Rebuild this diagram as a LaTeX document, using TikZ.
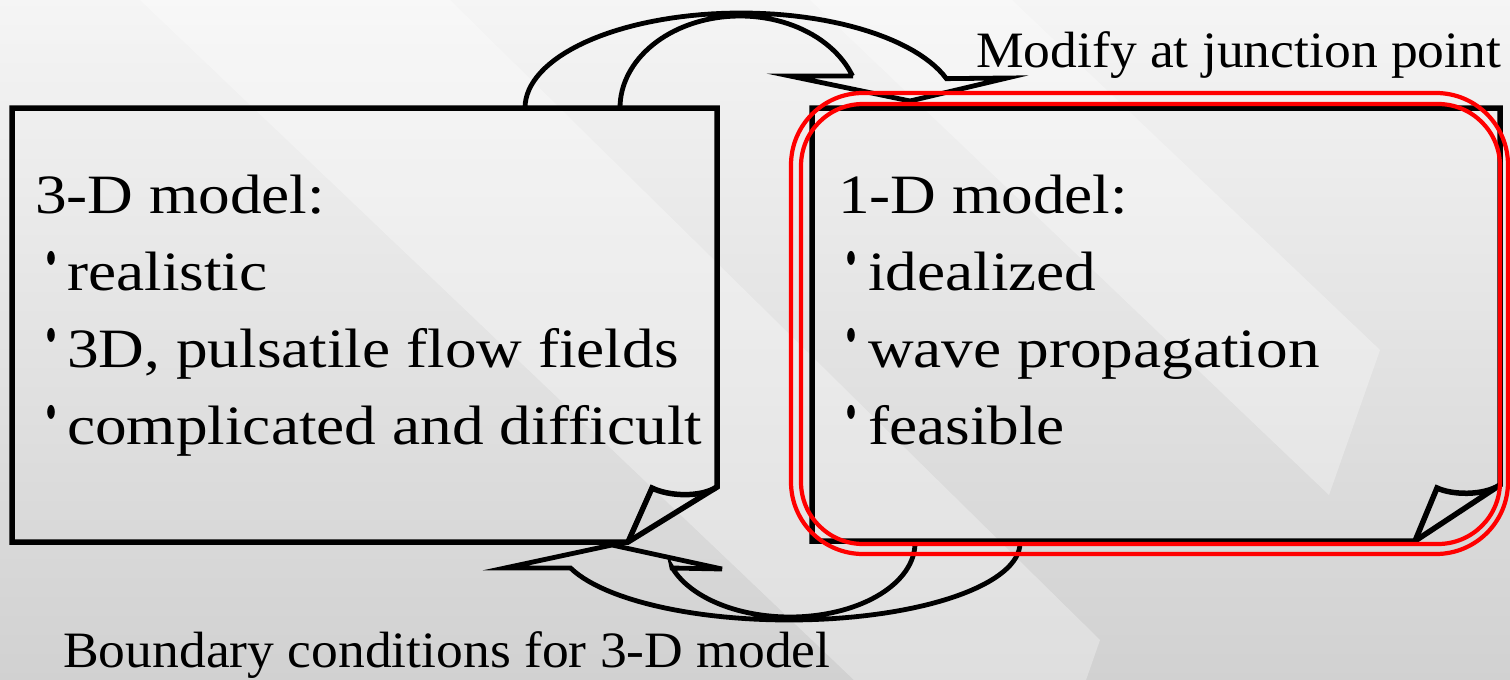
\documentclass[tikz,border=0pt]{standalone}
\usepackage{fontspec}
\setmainfont{Liberation Serif}
\newfontfamily\boxfont[FakeStretch=1.14,Ligatures=NoCommon]{Liberation Serif}
\newfontfamily\labfont[FakeStretch=1.05,Ligatures=NoCommon]{Liberation Serif}
\newfontfamily\cjkfont{Noto Sans CJK JP}
\tikzset{
  boxline/.style={line width=5.5pt, line join=miter},
  arrowline/.style={line width=4.8pt, line join=miter},
  redline/.style={draw=red, line width=4.2pt},
  boxtxt/.style={anchor=base west, inner sep=0pt, font={\boxfont\fontsize{55.5}{60}\selectfont}},
  labtxt/.style={anchor=base west, inner sep=0pt, font={\labfont\fontsize{51}{55}\selectfont}},
  bulnode/.style={inner sep=0pt, font={\cjkfont\fontsize{60}{64}\selectfont}},
  band/.style={fill=white, opacity=0.3}
}
\newcommand{\bulmark}{\scalebox{0.6}[1.1]{・}}
\begin{document}
\begin{tikzpicture}[x=1pt,y=-1pt]
\useasboundingbox (0,0) rectangle (1510,680);
% background
\shade[top color=black!4, bottom color=black!18] (0,0) rectangle (1510,680);
\fill[band] (140,0) -- (450,0) -- (1100,640) -- (1086,680) -- (854,680) -- cycle;
\fill[band] (810,0) -- (1012,0) -- (1380,350) -- (1329,495) -- cycle;
% left box
\draw[boxline] (717,487) -- (717,108) -- (12,108) -- (12,542) -- (628,542) -- cycle;
\draw[boxline] (717,487) .. controls (700,498) and (668,496) .. (652,488) -- (628,542);
% right box
\draw[boxline] (1500,485) -- (1500,108) -- (812,108) -- (812,541) -- (1415,541) -- cycle;
\draw[boxline] (1500,485) .. controls (1483,496) and (1452,495) .. (1437,488) -- (1415,541);
% top curved arrow
\draw[arrowline] plot[domain=180:342, samples=60] ({741+216*cos(\x)},{108+95*sin(\x)})
  -- (1007,78) -- (910,101) -- (790,76) -- (853,76)
  -- plot[domain=339.6:180, samples=60] ({740+120*cos(\x)},{108+92*sin(\x)});
% bottom curved arrow
\draw[arrowline] plot[domain=0:161, samples=60] ({789+231*cos(\x)},{543+77*sin(\x)})
  -- (505,568) -- (612,545) -- (722,569) -- (672,568)
  -- plot[domain=161:0, samples=60] ({790+125*cos(\x)},{543+74*sin(\x)});
% texts left
\node[boxtxt] (t3d) at (35,213) {3-D model:};
\node[bulnode] (b1) at (51,267) {\bulmark};
\node[boxtxt] (l1) at (67,290) {realistic};
\node[bulnode] (b2) at (51,344) {\bulmark};
\node[boxtxt] (l2) at (67,367) {3D, pulsatile flow fields};
\node[bulnode] (b3) at (51,421) {\bulmark};
\node[boxtxt] (l3) at (67,444) {complicated and difficult};
% texts right
\node[boxtxt] (t1d) at (838,213) {1-D model:};
\node[bulnode] (r1b) at (851,267) {\bulmark};
\node[boxtxt] (r1) at (868,290) {idealized};
\node[bulnode] (r2b) at (851,344) {\bulmark};
\node[boxtxt] (r2) at (868,367) {wave propagation};
\node[bulnode] (r3b) at (851,421) {\bulmark};
\node[boxtxt] (r3) at (868,444) {feasible};
% labels
\node[labtxt] (mod) at (976,67) {Modify at junction point};
\node[labtxt] (bc) at (63,667) {Boundary conditions for 3-D model};
% red highlight
\draw[redline, rounded corners=72pt] (791,93) rectangle (1508,554);
\draw[redline, rounded corners=62pt] (801,104) rectangle (1500,544);
\end{tikzpicture}
\end{document}
